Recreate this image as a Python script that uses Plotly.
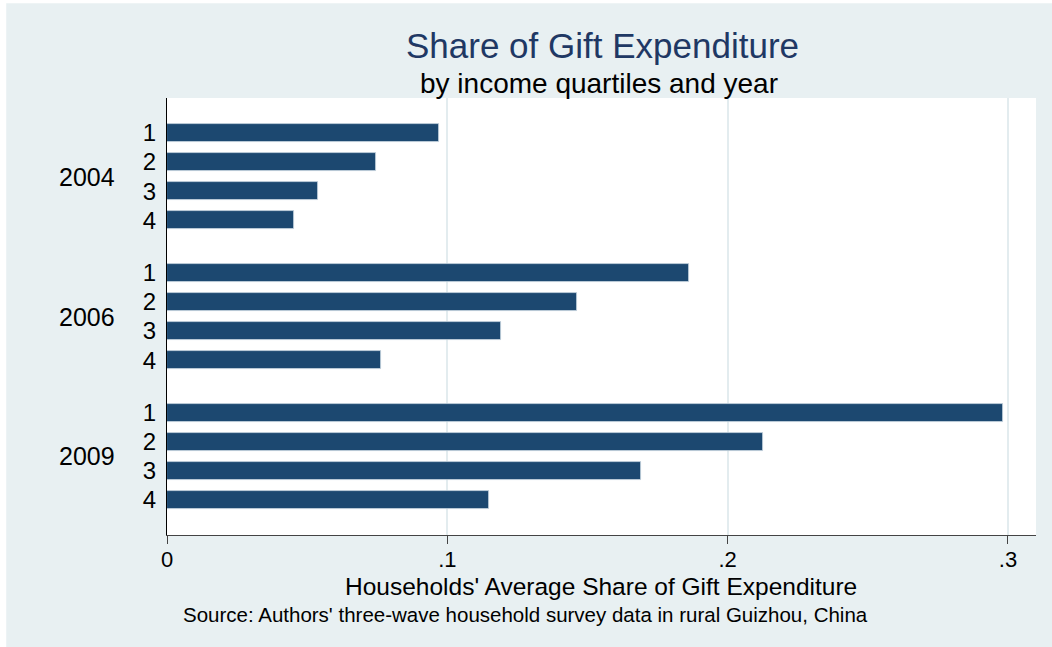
import plotly.graph_objects as go

years = ["2004", "2006", "2009"]
quartiles = ["1", "2", "3", "4"]
share_2004 = [0.0971, 0.0747, 0.0540, 0.0454]
share_2006 = [0.1863, 0.1464, 0.1193, 0.0764]
share_2009 = [0.2984, 0.2125, 0.1690, 0.1150]
values = [share_2004, share_2006, share_2009]
x_ticks = [0, 0.1, 0.2, 0.3]
x_tick_text = ["0", ".1", ".2", ".3"]

GROUP_STEP = 4.8
BAR_COLOR = "#1c4870"
BG = "#e8f0f2"
FONT = "Liberation Sans, Arial, sans-serif"

ys, xs, labels = [], [], []
for g, yr in enumerate(years):
    for q, qt in enumerate(quartiles):
        ys.append(g * GROUP_STEP + q)
        xs.append(values[g][q])
        labels.append(qt)

fig = go.Figure()
fig.add_trace(go.Bar(
    x=xs, y=ys, orientation="h", width=0.62,
    marker=dict(color=BAR_COLOR, line=dict(color="#c8d6e0", width=0.8)),
    hoverinfo="x", showlegend=False,
))

annotations = []
for g, yr in enumerate(years):
    annotations.append(dict(
        x=-0.058, xref="paper", y=g * GROUP_STEP + 1.5, yref="y",
        text=yr, showarrow=False, xanchor="right", yanchor="middle",
        font=dict(size=25, color="#000000", family=FONT),
    ))

annotations += [
    dict(x=0.5015, xref="paper", y=1.121, yref="paper", text="Share of Gift Expenditure",
         showarrow=False, xanchor="center", yanchor="middle",
         font=dict(size=35, color="#1f3864", family=FONT)),
    dict(x=0.497, xref="paper", y=1.034, yref="paper", text="by income quartiles and year",
         showarrow=False, xanchor="center", yanchor="middle",
         font=dict(size=28, color="#000000", family=FONT)),
    dict(x=0.499, xref="paper", y=-0.117, yref="paper",
         text="Households' Average Share of Gift Expenditure",
         showarrow=False, xanchor="center", yanchor="middle",
         font=dict(size=24.5, color="#000000", family=FONT)),
    dict(x=0.412, xref="paper", y=-0.182, yref="paper",
         text="Source: Authors' three-wave household survey data in rural Guizhou, China",
         showarrow=False, xanchor="center", yanchor="middle",
         font=dict(size=20.5, color="#000000", family=FONT)),
]

shapes = [
    dict(type="rect", xref="paper", yref="paper", x0=-0.25, x1=-0.185, y0=-0.3, y1=1.3,
         fillcolor="white", line=dict(width=0), layer="below"),
    dict(type="rect", xref="paper", yref="paper", x0=-0.25, x1=1.1, y0=1.217, y1=1.3,
         fillcolor="white", line=dict(width=0), layer="below"),
]

fig.update_layout(
    width=1052, height=647,
    margin=dict(l=167, r=16, t=98, b=112),
    paper_bgcolor=BG, plot_bgcolor="white",
    font=dict(family=FONT, color="#000000"),
    annotations=annotations, shapes=shapes,
    bargap=0,
)
fig.update_xaxes(
    range=[0, 0.31], tickvals=x_ticks, ticktext=x_tick_text,
    showgrid=True, gridcolor="#e3ecef", gridwidth=1.5,
    zeroline=False, showline=True, linecolor="#444444", linewidth=1.2,
    ticks="outside", ticklen=8, tickcolor="#444444", tickwidth=1.2,
    ticklabelstandoff=-4,
    tickfont=dict(size=22, family=FONT, color="#000000"),
)
fig.update_yaxes(
    range=[2 * GROUP_STEP + 3 + 1.2, -1.2],
    tickvals=ys, ticktext=labels,
    showgrid=False, zeroline=False, showline=True, linecolor="#000000", linewidth=1.2,
    ticks="", ticklabelstandoff=5,
    tickfont=dict(size=24, family=FONT, color="#000000"),
)

fig.write_html("out.html", config={"displayModeBar": False},
               post_script="document.body.style.margin='0';")
